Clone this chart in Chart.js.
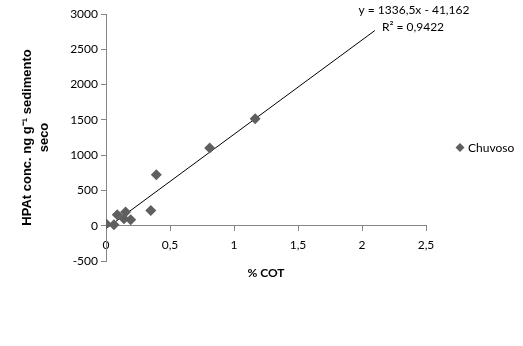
<!DOCTYPE html>
<html>
<head>
<meta charset="utf-8">
<script src="https://cdn.jsdelivr.net/npm/chart.js@4"></script>
<style>
html,body{margin:0;padding:0;background:#fff}
#wrap{width:523px;height:346px}
</style>
</head>
<body>
<div id="wrap"><canvas id="grafico" width="523" height="346"></canvas></div>
<script>

// % COT x HPAt (periodo chuvoso)
let cot=[0,0.062,0.088,0.14,0.153,0.193,0.35,0.393,0.81,1.165]
let hpat=[28,14,155,100,194,85,217,722,1100,1515]

// linha de tendencia (extremos)
let tendX=[0,2.1]
let tendY=[-41.2,2765]

let eqTexto="y = 1336,5x - 41,162"
let r2Texto="R² = 0,9422"

let xTicks=[0,0.5,1,1.5,2,2.5]
let yTicks=[-500,0,500,1000,1500,2000,2500,3000]

let cinza="#858585"
let marcador="#5f5f5f"
let fonteTick="Lato"

let pontos=cot.map((c,i)=>({x:c,y:hpat[i]}))
let linha=tendX.map((t,i)=>({x:t,y:tendY[i]}))

// equacao da reta + legenda a direita (como no Excel)
let extras={
id:"extras",
afterDraw(chart){
let ctx=chart.ctx
let a=chart.chartArea
let ds=chart.data.datasets[0]
ctx.save()
ctx.fillStyle="#000"
ctx.font="12px "+fonteTick
ctx.textAlign="center"
ctx.textBaseline="middle"
ctx.fillText(eqTexto,a.right-12,10)
ctx.fillText(r2Texto,a.right-13,27)

let lx=a.right+34
let ly=(a.top+a.bottom)/2+10
ctx.fillStyle=ds.backgroundColor
ctx.beginPath()
ctx.moveTo(lx,ly-4.5)
ctx.lineTo(lx+4.5,ly)
ctx.lineTo(lx,ly+4.5)
ctx.lineTo(lx-4.5,ly)
ctx.closePath()
ctx.fill()
ctx.fillStyle="#000"
ctx.textAlign="left"
ctx.fillText(ds.label,lx+8,ly+1)
ctx.restore()
}
}

new Chart(document.getElementById("grafico"),{

type:"scatter",

data:{
datasets:[{
label:"Chuvoso",
data:pontos,
pointStyle:"rectRot",
pointRadius:5.5,
pointHoverRadius:5.5,
backgroundColor:marcador,
borderColor:marcador,
borderWidth:0
},{
label:"Linear (Chuvoso)",
type:"line",
data:linha,
borderColor:"#000",
borderWidth:1,
pointRadius:0,
fill:false
}]
},

options:{
responsive:false,
animation:false,
layout:{padding:{left:0,right:97,top:14,bottom:85}},
plugins:{
tooltip:{enabled:false},
legend:{display:false}
},
scales:{
x:{
type:"linear",
min:0,
max:2.5,
position:{y:0},
afterBuildTicks:s=>{s.ticks=xTicks.map(v=>({value:v}))},
afterFit:s=>{s.height=55},
grid:{drawOnChartArea:false,drawTicks:true,tickLength:5,color:cinza},
border:{color:cinza},
ticks:{
padding:7,
color:"#000",
font:{family:fonteTick,size:12},
callback:v=>String(v).replace(".",",")
},
title:{
display:true,
text:"% COT",
color:"#000",
font:{family:fonteTick,size:12,weight:"bold"},
padding:{top:0,bottom:0}
}
},
y:{
min:-500,
max:3000,
afterBuildTicks:s=>{s.ticks=yTicks.map(v=>({value:v}))},
afterFit:s=>{s.width=106},
grid:{drawOnChartArea:false,drawTicks:true,tickLength:5,color:cinza},
border:{color:cinza},
ticks:{
padding:3,
color:"#000",
font:{family:fonteTick,size:12},
callback:v=>String(v)
},
title:{
display:true,
text:["HPAt conc. ng g⁻¹ sedimento","seco"],
color:"#000",
font:{family:"Liberation Sans",size:13,weight:"bold",lineHeight:1.3},
padding:{top:19,bottom:0}
}
}
}
},

plugins:[extras]

})

</script>
</body>
</html>
